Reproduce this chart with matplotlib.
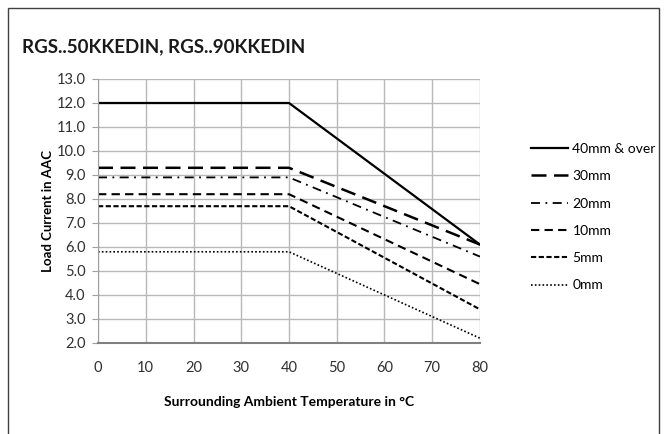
import matplotlib
matplotlib.use("Agg")
import matplotlib.pyplot as plt
from matplotlib.patches import Rectangle

plt.rcParams['font.family'] = ['Lato', 'DejaVu Sans']

temps = [0, 40, 80]
labels = ['40mm & over', '30mm', '20mm', '10mm', '5mm', '0mm']
current_40 = [12.0, 12.0, 6.1]
current_30 = [9.3, 9.3, 6.1]
current_20 = [8.9, 8.9, 5.6]
current_10 = [8.2, 8.2, 4.45]
current_5 = [7.7, 7.7, 3.4]
current_0 = [5.8, 5.8, 2.2]
series = [current_40, current_30, current_20, current_10, current_5, current_0]

styles = [
    dict(linestyle='-', linewidth=1.6),
    dict(linestyle=(0, (6, 3)), linewidth=1.8),
    dict(linestyle=(0, (5, 3, 1, 3)), linewidth=1.3),
    dict(linestyle=(0, (4, 2.5)), linewidth=1.5),
    dict(linestyle=(0, (2.5, 1.2)), linewidth=1.5),
    dict(linestyle=(0, (1, 1.3)), linewidth=1.2),
]

fig = plt.figure(figsize=(6.67, 4.34), dpi=100)
fig.patches.append(Rectangle((8 / 667, -0.1), 651 / 667, 1.1 - 8 / 434,
                             transform=fig.transFigure, fill=False,
                             edgecolor='#404040', linewidth=1.0))
ax = fig.add_axes([98 / 667, 1 - 343 / 434, 382 / 667, 264 / 434])

for vals, lab, st in zip(series, labels, styles):
    ax.plot(temps, vals, color='black', label=lab, **st)

ax.set_xlim(0, 80)
ax.set_ylim(2, 13)
ax.set_xticks(range(0, 81, 10))
ax.set_yticks(range(2, 14))
ax.set_yticklabels(['%.1f' % v for v in range(2, 14)])
ax.grid(True, color='#b8b8b8', linewidth=1.0)
ax.set_axisbelow(True)
for s in ['top', 'right']:
    ax.spines[s].set_visible(False)
ax.spines['left'].set_color('#a0a0a0')
ax.spines['bottom'].set_color('#808080')
ax.spines['bottom'].set_linewidth(1.5)
ax.tick_params(axis='y', length=4, color='#a0a0a0', labelsize=10.5, pad=5,
               labelcolor='#303030')
ax.tick_params(axis='x', length=0, labelsize=10.5, pad=13, labelcolor='#303030')

ax.set_xlabel('Surrounding Ambient Temperature in °C', fontsize=10,
              fontweight='bold', labelpad=15)
ax.set_ylabel('Load Current in AAC', fontsize=9.5, fontweight='bold', labelpad=2)
fig.text(22 / 667, 1 - 47 / 434, 'RGS..50KKEDIN, RGS..90KKEDIN', fontsize=13.5,
         fontweight='bold', va='center', ha='left', color='#1a1a1a')

ax.legend(loc='upper left', bbox_to_anchor=(1.1, 0.805), frameon=False,
          fontsize=10, handlelength=2.7, handletextpad=0.3, labelspacing=1.1)

fig.savefig('out.png', dpi=100)
